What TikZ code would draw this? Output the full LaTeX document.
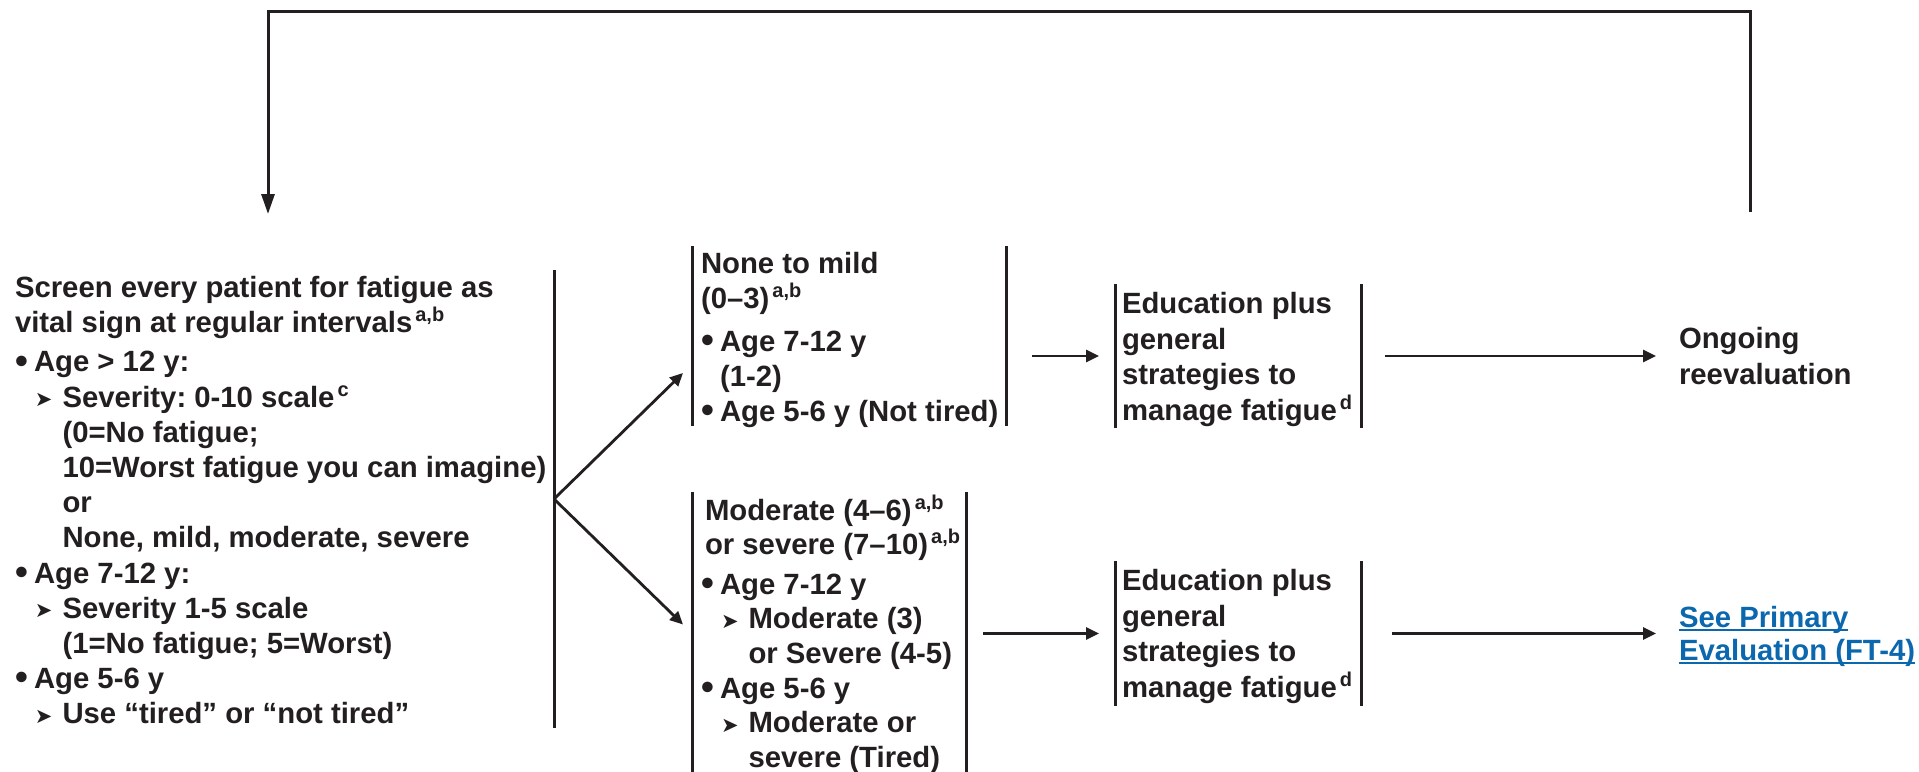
\documentclass[tikz,border=0pt]{standalone}
\usepackage{fontspec}
\setmainfont{Liberation Sans}
\newfontfamily\djv{DejaVu Sans}
\usetikzlibrary{arrows.meta,calc}
\definecolor{ink}{HTML}{231F20}
\definecolor{linkblue}{HTML}{0B67AE}
\frenchspacing
\newcommand\bul{\makebox[19pt][l]{\raisebox{-1.2pt}{\scalebox{1.25}{\textbullet}}}}
\newcommand\arr{\hspace*{20pt}\makebox[27.5pt][l]{\raisebox{0.5pt}{\fontsize{21}{21}\djv\mdseries ➤}}}
\newcommand\ind{\hspace*{47.5pt}}
\newcommand\bind{\hspace*{19pt}}
\newcommand\sups[1]{\hspace{3pt}\raisebox{11pt}{\fontsize{20}{20}\selectfont #1}}
\newcommand\myul[1]{\leavevmode\setbox0\hbox{#1}\rlap{\rule[-3.5pt]{\wd0}{2pt}}\box0}
\newcommand\blk[3]{\parbox[t]{#1}{\fontsize{29.3}{#2}\selectfont\bfseries\raggedright\frenchspacing #3}}
\begin{document}
\begin{tikzpicture}[x=1pt,y=-1pt,
  txt/.style={anchor=base west,inner sep=0pt,outer sep=0pt,text=ink},
  frame/.style={rectangle,inner sep=0pt,outer sep=0pt,draw=none},
  bar/.style={draw=ink,line width=3pt},
  conn/.style={draw=ink,line width=2.8pt,-{Triangle[length=13pt,width=12pt]}},
  loopconn/.style={draw=ink,line width=3pt,-{Triangle[length=20pt,width=13pt]}}]
\useasboundingbox (0,0) rectangle (1919,771);

% frames (geometry of the bracketed boxes)
\node[frame,minimum width=539pt,minimum height=458pt] (scrbox) at (284.5,499) {};
\node[frame,minimum width=314pt,minimum height=180pt] (nonebox) at (849,336) {};
\node[frame,minimum width=274pt,minimum height=283pt] (modbox) at (829,633.5) {};
\node[frame,minimum width=246pt,minimum height=144pt] (edu1) at (1238,356) {};
\node[frame,minimum width=246pt,minimum height=145pt] (edu2) at (1238,633.5) {};

% bars
\draw[bar] (scrbox.north east) -- (scrbox.south east);
\draw[bar] (nonebox.north west) -- (nonebox.south west);
\draw[bar] (nonebox.north east) -- (nonebox.south east);
\draw[bar] (modbox.north west) -- (modbox.south west);
\draw[bar] (modbox.north east) -- (modbox.south east);
\draw[bar] (edu1.north west) -- (edu1.south west);
\draw[bar] (edu1.north east) -- (edu1.south east);
\draw[bar] (edu2.north west) -- (edu2.south west);
\draw[bar] (edu2.north east) -- (edu2.south east);

% texts
\node[txt] (scrtxt) at (15,297) {\blk{560pt}{35.2pt}{%
Screen every patient for fatigue as\\
vital sign at regular intervals\sups{a,b}\\[4.5pt]
\bul Age > 12 y:\\
\arr Severity: 0-10 scale\sups{c}\\
\ind (0=No fatigue;\\
\ind 10=Worst fatigue you can imagine)\\
\ind or\\
\ind None, mild, moderate, severe\\
\bul Age 7-12 y:\\
\arr Severity 1-5 scale\\
\ind (1=No fatigue; 5=Worst)\\
\bul Age 5-6 y\\
\arr Use “tired” or “not tired”}};

\node[txt] (nonetxt) at (701,273.5) {\blk{320pt}{35pt}{%
None to mild\\
(0–3)\sups{a,b}\\[8pt]
\bul Age 7-12 y\\
\bind (1-2)\\
\bul Age 5-6 y (Not tired)}};

\node[txt] (modtxt) at (701,520) {\blk{300pt}{34.6pt}{%
\hspace*{4pt}Moderate (4–6)\sups{a,b}\\
\hspace*{4pt}or severe (7–10)\sups{a,b}\\[5pt]
\bul Age 7-12 y\\
\arr Moderate (3)\\
\ind or Severe (4-5)\\
\bul Age 5-6 y\\
\arr Moderate or\\
\ind severe (Tired)}};

\node[txt] (edu1txt) at (1122,313.5) {\blk{260pt}{35.7pt}{%
Education plus\\ general\\ strategies to\\ manage fatigue\sups{d}}};
\node[txt] (edu2txt) at (1122,590.5) {\blk{260pt}{35.7pt}{%
Education plus\\ general\\ strategies to\\ manage fatigue\sups{d}}};

\node[txt] (ongoing) at (1679,348.5) {\blk{260pt}{35.5pt}{Ongoing\\ reevaluation}};
\node[txt,text=linkblue] (seeprim) at (1679,627.5) {\blk{260pt}{33pt}{\myul{See Primary}\\ \myul{Evaluation (FT-4)}}};

% connectors
\draw[conn] (scrbox.east) -- ($(nonebox.west)+(-9,37)$);
\draw[conn] (scrbox.east) -- ($(modbox.west)+(-9,-9)$);
\draw[conn] ($(nonebox.east |- edu1.west)+(26,0)$) -- ($(edu1.west)+(-16,0)$);
\draw[conn] ($(edu1.east)+(24,0)$) -- ($(ongoing.west |- edu1.east)+(-23,0)$);
\draw[conn] ($(modbox.east |- edu2.west)+(17,0)$) -- ($(edu2.west)+(-16,0)$);
\draw[conn] ($(edu2.east)+(31,0)$) -- ($(seeprim.west |- edu2.east)+(-23,0)$);

% feedback loop
\coordinate (loopstart) at (1750,212);
\coordinate (loopend) at (268,214);
\draw[loopconn] (loopstart) -- ++(0,-201) -| (loopend);
\end{tikzpicture}
\end{document}
